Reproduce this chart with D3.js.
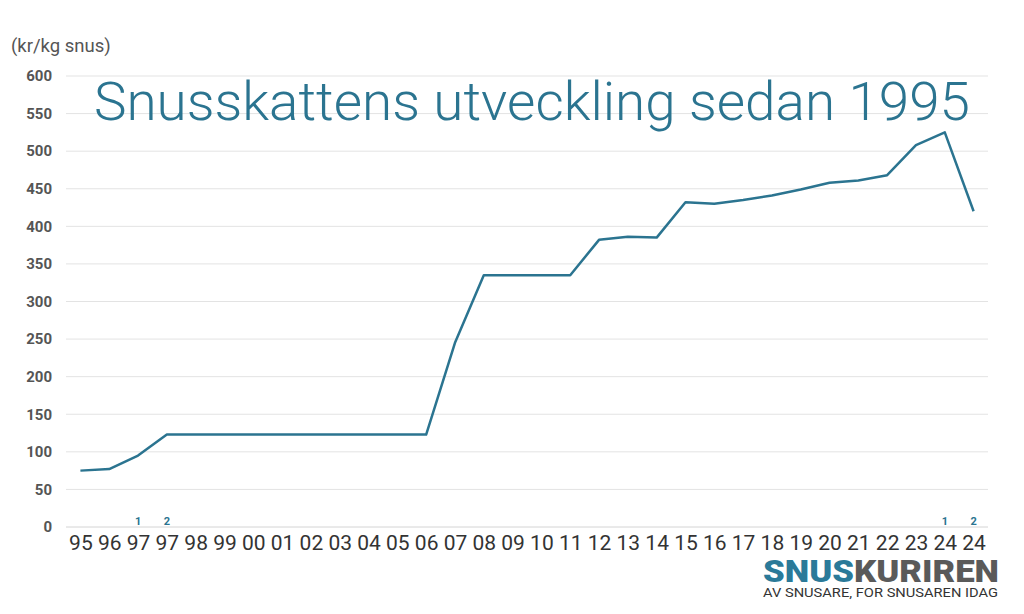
<!DOCTYPE html>
<html><head><meta charset="utf-8">
<script src="https://cdn.jsdelivr.net/npm/d3@7"></script>
<style>body{margin:0;background:#fff}svg{display:block}</style>
</head><body><svg id="c" width="1024" height="614"></svg>
<script>
const years = ["95","96","97","97","98","99","00","01","02","03","04","05","06","07","08","09","10","11","12","13","14","15","16","17","18","19","20","21","22","23","24","24"];
const marks = ["","","1","2","","","","","","","","","","","","","","","","","","","","","","","","","","","1","2"];
const values = [75,77,95,123,123,123,123,123,123,123,123,123,123,245,335,335,335,335,382,386,385,432,430,435,441,449,458,461,468,508,525,420];
const yTicks = [0,50,100,150,200,250,300,350,400,450,500,550,600];

(function(){
const svg = d3.select("#c");
const teal = "#2b7490";
const pl = 66, pr = 988, pt = 76, pb = 527;
const idx = years.map((d,i)=>i);
const x = d3.scalePoint().domain(idx).range([pl,pr]).padding(0.5);
const y = d3.scaleLinear().domain([0,600]).range([pb,pt]);

svg.append("g").selectAll("line").data(yTicks).join("line")
  .attr("x1",pl).attr("x2",pr)
  .attr("y1",d=>y(d)).attr("y2",d=>y(d))
  .attr("stroke",d=>d===0?"#d4d4d4":"#e3e3e3").attr("stroke-width",1);

const ya = svg.append("g").attr("transform",`translate(52,0)`)
  .call(d3.axisLeft(y).tickValues(yTicks).tickSize(0).tickPadding(0));
ya.select(".domain").remove();
ya.selectAll("text").attr("font-family","Roboto, sans-serif").attr("font-weight","700")
  .attr("font-size","15px").attr("fill","#555");

const xa = svg.append("g").attr("transform",`translate(0,${pb})`)
  .call(d3.axisBottom(x).tickFormat(i=>years[i]).tickSize(0).tickPadding(8));
xa.select(".domain").remove();
xa.selectAll("text").attr("font-family","Roboto, sans-serif").attr("font-weight","400")
  .attr("font-size","21px").attr("fill","#333").attr("dy","0.71em");

svg.append("g").selectAll("text").data(idx.filter(i=>marks[i])).join("text")
  .attr("x",i=>x(i)).attr("y",pb-2).attr("text-anchor","middle")
  .attr("font-family","Roboto, sans-serif").attr("font-weight","700").attr("font-size","11px")
  .attr("fill",teal).text(i=>marks[i]);

svg.append("path").datum(idx)
  .attr("fill","none").attr("stroke",teal).attr("stroke-width",2.5).attr("stroke-linejoin","round")
  .attr("d",d3.line().x(i=>x(i)).y(i=>y(values[i])));

svg.append("text").attr("x",94).attr("y",120)
  .attr("font-family","Roboto, sans-serif").attr("font-weight","300").attr("font-size","54px")
  .attr("fill",teal).attr("textLength",876).attr("lengthAdjust","spacingAndGlyphs")
  .text("Snusskattens utveckling sedan 1995");

svg.append("text").attr("x",11).attr("y",52)
  .attr("font-family","Roboto, sans-serif").attr("font-size","18.5px").attr("fill","#555")
  .text("(kr/kg snus)");

const logo = svg.append("text").attr("x",763).attr("y",582)
  .attr("font-family","Roboto, sans-serif").attr("font-weight","900").attr("font-size","31px")
  .attr("textLength",236).attr("lengthAdjust","spacingAndGlyphs");
logo.append("tspan").attr("fill","#2b7a99").text("SNUS");
logo.append("tspan").attr("fill","#5a5a5a").text("KURIREN");
svg.append("text").attr("x",763).attr("y",597)
  .attr("font-family","Roboto, sans-serif").attr("font-weight","400").attr("font-size","12px")
  .attr("fill","#333").attr("textLength",235).attr("lengthAdjust","spacingAndGlyphs")
  .text("AV SNUSARE, FOR SNUSAREN IDAG");
})();
</script></body></html>
